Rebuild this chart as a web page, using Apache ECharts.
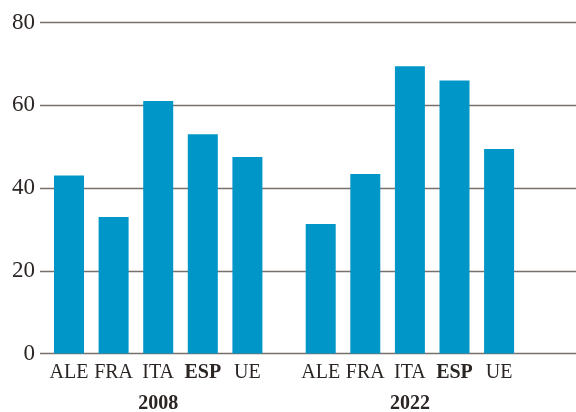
<!DOCTYPE html>
<html>
<head>
<meta charset="utf-8">
<script src="https://cdn.jsdelivr.net/npm/echarts@6/dist/echarts.min.js"></script>
<style>
html,body{margin:0;padding:0;background:#fff;}
#main{width:576px;height:412px;}
</style>
</head>
<body>
<div id="main"></div>
<script>
var categories = ['ALE', 'FRA', 'ITA', 'ESP', 'UE'];
var years = ['2008', '2022'];
var values2008 = [43, 33, 61, 53, 47.5];
var values2022 = [31.3, 43.4, 69.4, 66, 49.4];
var yTicks = [0, 20, 40, 60, 80];

var myChart = echarts.init(document.getElementById('main'));
var font = 'Liberation Serif';
var textColor = '#2b2624';
var barColor = '#0097c8';

// category label, bold for ESP
function catLabel(v){
  return v === 'ESP' ? '{b|' + v + '}' : v;
}
function catAxis(idx, year){
  return {
    type: 'category',
    gridIndex: idx,
    data: categories,
    axisLine: {show: false},
    axisTick: {show: false},
    axisLabel: {
      color: textColor, fontFamily: font, fontSize: 20, margin: 9,
      interval: 0,
      formatter: catLabel,
      rich: {b: {fontWeight: 'bold', fontFamily: font, fontSize: 20, color: textColor}}
    },
    name: year,
    nameLocation: 'middle',
    nameGap: 40,
    nameTextStyle: {color: textColor, fontFamily: font, fontSize: 20, fontWeight: 'bold'}
  };
}
function hiddenY(idx){
  return {type: 'value', gridIndex: idx, min: yTicks[0], max: yTicks[yTicks.length - 1], show: false};
}

var option = {
  animation: false,
  grid: [
    {left: 40, right: 0, top: 22.5, bottom: 58.5, outerBoundsMode: 'none'},
    {left: 46.7, width: 223, top: 22.5, bottom: 58.5, outerBoundsMode: 'none'},
    {left: 298.4, width: 223, top: 22.5, bottom: 58.5, outerBoundsMode: 'none'}
  ],
  xAxis: [
    {type: 'value', gridIndex: 0, show: false},
    catAxis(1, years[0]),
    catAxis(2, years[1])
  ],
  yAxis: [
    {
      type: 'value', gridIndex: 0,
      min: yTicks[0], max: yTicks[yTicks.length - 1], interval: 20,
      axisLine: {show: false},
      axisTick: {show: false},
      axisLabel: {color: textColor, fontFamily: font, fontSize: 23, margin: 5, padding: [5, 0, 0, 0]},
      splitLine: {show: true, lineStyle: {color: '#77716d', width: 1.3}}
    },
    hiddenY(1),
    hiddenY(2)
  ],
  series: [
    {
      name: years[0], type: 'bar', xAxisIndex: 1, yAxisIndex: 1,
      data: values2008, barWidth: 30,
      itemStyle: {color: barColor}, z: 3
    },
    {
      name: years[1], type: 'bar', xAxisIndex: 2, yAxisIndex: 2,
      data: values2022, barWidth: 30,
      itemStyle: {color: barColor}, z: 3
    }
  ]
};
myChart.setOption(option);
</script>
</body>
</html>
